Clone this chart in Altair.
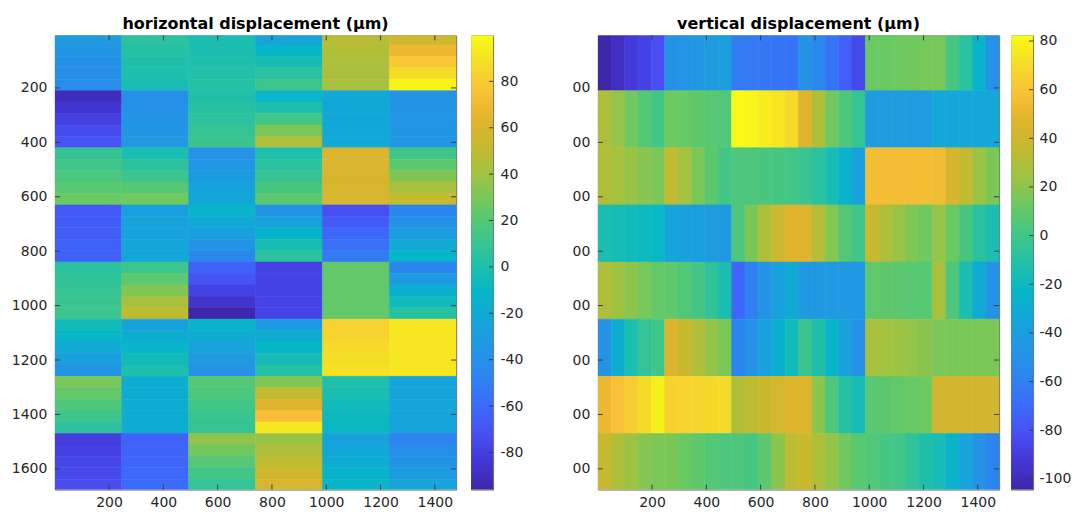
import altair as alt
import pandas as pd

FONT = "DejaVu Sans"
LABEL_COLOR = "#262626"
TICK_COLOR = "#3a3a3a"
FRAME_COLOR = "#6b6b6b"

# parula colour stops, evenly spaced from the low end to the high end
PARULA = [
    "#3e26a8", "#4437d6", "#4750f4", "#3b6cfa", "#2c85ee", "#2296e4",
    "#14a6d9", "#06b7c6", "#22c0a8", "#42c686", "#6ac962", "#9cc344",
    "#c2bb30", "#e2b32d", "#fbc238", "#f5dc28", "#f9fb15",
]

X_TICKS = [200, 400, 600, 800, 1000, 1200, 1400]
Y_TICKS = [200, 400, 600, 800, 1000, 1200, 1400, 1600]
H_BAR_TICKS = [-80, -60, -40, -20, 0, 20, 40, 60, 80]
V_BAR_TICKS = [-100, -80, -60, -40, -20, 0, 20, 40, 60, 80]

H_LIMITS = [-96.0, 99.8]
V_LIMITS = [-104.4, 82.3]

X_RANGE = [0.5, 1478.5]
Y_RANGE = [7, 1676]
CELL_W = 246.5
CELL_H = 210

# horizontal displacement: 8 rows x 6 cells, samples run top -> bottom inside a cell
horizontal = [
    [[-32, -35, -38, -40, -42], [5, 3, 1, 0, -2], [-2, -1, 0, 2, 3],
     [-24, -12, -3, 5, 12], [48, 46, 44, 43, 42], [56, 68, 78, 88, 97]],
    [[-90, -85, -80, -74, -70], [-40, -39, -37, -35, -33], [1, 4, 6, 9, 11],
     [-12, 0, 14, 30, 44], [-22, -22, -22, -21, -21], [-37, -36, -35, -34, -34]],
    [[9, 13, 17, 21, 26], [-2, 5, 12, 20, 28], [-38, -34, -30, -26, -22],
     [0, 5, 10, 16, 22], [61, 60, 59, 58, 58], [13, 22, 32, 42, 52]],
    [[-67, -66, -65, -64, -64], [-28, -26, -25, -23, -22], [-12, -20, -28, -36, -45],
     [-36, -26, -13, -3, 5], [-72, -67, -62, -57, -52], [-46, -38, -30, -20, -12]],
    [[5, 7, 9, 11, 12], [12, 22, 32, 42, 50], [-64, -70, -78, -86, -95],
     [-78, -78, -78, -78, -78], [24, 24, 24, 24, 24], [-46, -32, -16, -6, 4]],
    [[-5, -12, -20, -28, -36], [-26, -18, -12, -5, 0], [-12, -18, -25, -32, -38],
     [-30, -18, -10, -3, 3], [82, 84, 86, 88, 90], [92, 92, 92, 92, 92]],
    [[30, 24, 18, 12, 6], [-18, -18, -18, -18, -18], [20, 17, 14, 11, 9],
     [32, 50, 62, 74, 92], [1, -2, -5, -7, -9], [-24, -24, -24, -24, -24]],
    [[-81, -79, -77, -75, -73], [-64, -63, -62, -61, -60], [36, 28, 20, 14, 8],
     [38, 44, 50, 55, 58], [-26, -22, -18, -14, -12], [-48, -42, -36, -30, -24]],
]

# vertical displacement: 8 rows x 6 cells, samples run left -> right inside a cell
vertical = [
    [[-104, -98, -92, -87, -82], [-48, -46, -44, -42, -40], [-62, -63, -64, -65, -66],
     [-48, -55, -65, -75, -85], [12, 12, 13, 14, 15], [15, 2, -8, -25, -50]],
    [[30, 22, 14, 6, 0], [13, 11, 9, 7, 5], [82, 80, 77, 74, 70],
     [46, 30, 14, 4, -4], [-42, -42, -42, -42, -42], [-34, -34, -34, -34, -34]],
    [[30, 27, 23, 19, 16], [35, 26, 16, 8, 1], [4, 4, 3, 2, 1],
     [-3, -8, -16, -26, -38], [55, 55, 55, 55, 55], [54, 44, 35, 24, 16]],
    [[-14, -16, -18, -20, -22], [-36, -38, -40, -42, -44], [4, 16, 30, 40, 47],
     [46, 32, 18, 6, 0], [38, 30, 23, 17, 13], [22, 12, 2, -8, -14]],
    [[30, 25, 20, 15, 10], [9, 5, 1, -6, -15], [-72, -60, -48, -38, -30],
     [-44, -44, -44, -44, -44], [9, 9, 8, 7, 7], [28, 4, -14, -30, -48]],
    [[-48, -30, -14, -5, 0], [45, 38, 30, 22, 16], [-58, -48, -38, -28, -18],
     [-2, -12, -24, -38, -50], [28, 26, 24, 22, 20], [16, 16, 16, 16, 16]],
    [[52, 58, 64, 70, 78], [66, 67, 68, 69, 70], [30, 34, 38, 42, 46],
     [46, 20, 4, -10, -16], [7, 8, 10, 11, 13], [41, 41, 41, 41, 41]],
    [[38, 30, 24, 19, 16], [16, 12, 9, 6, 4], [4, 2, 8, 20, 34],
     [38, 30, 22, 14, 7], [5, 2, 0, -6, -12], [-16, -26, -36, -48, -58]],
]

PLOT_W = 402
PLOT_H = 455
BAR_W = 22
TICK_LEN = 5


def cells_to_frame(rows, along):
    """Split every image cell into strips, one per sample, like imagesc pixels."""
    recs = []
    for r, row in enumerate(rows):
        for c, samples in enumerate(row):
            n = len(samples)
            for k, v in enumerate(samples):
                if along == "y":
                    x0, x1 = c * CELL_W, (c + 1) * CELL_W
                    y0 = r * CELL_H + k * CELL_H / n
                    y1 = r * CELL_H + (k + 1) * CELL_H / n
                else:
                    x0 = c * CELL_W + k * CELL_W / n
                    x1 = c * CELL_W + (k + 1) * CELL_W / n
                    y0, y1 = r * CELL_H, (r + 1) * CELL_H
                recs.append({"x0": x0, "x1": x1, "y0": y0, "y1": y1, "v": v})
    return pd.DataFrame(recs)


def color_scale(limits):
    lo, hi = limits
    n = len(PARULA)
    dom = [lo + (hi - lo) * i / (n - 1) for i in range(n)]
    return alt.Scale(domain=dom, range=PARULA, interpolate="rgb", clamp=True)


def heatmap(df, limits, title, short_labels=False):
    cscale = color_scale(limits)
    xs = alt.Scale(domain=X_RANGE, nice=False, zero=False)
    ys = alt.Scale(domain=Y_RANGE, nice=False, zero=False, reverse=True)
    xaxis = alt.Axis(values=X_TICKS, format="d", title=None, ticks=False, domain=False,
                     grid=False, labelFontSize=14, labelColor=LABEL_COLOR, labelPadding=6,
                     labelFlush=False, labelOverlap=False)
    yopts = dict(values=Y_TICKS, format="d", title=None, ticks=False, domain=False, grid=False,
                 labelFontSize=14, labelColor=LABEL_COLOR, labelPadding=8,
                 labelFlush=False, labelOverlap=False)
    if short_labels:
        yopts["labelExpr"] = "substring(datum.label, length(datum.label) - 2)"
    yaxis = alt.Axis(**yopts)

    rects = alt.Chart(df).mark_rect(clip=True, strokeWidth=0.6).encode(
        x=alt.X("x0:Q", scale=xs, axis=xaxis),
        x2="x1:Q",
        y=alt.Y("y0:Q", scale=ys, axis=yaxis),
        y2="y1:Q",
        color=alt.Color("v:Q", scale=cscale, legend=None),
        stroke=alt.Stroke("v:Q", scale=cscale, legend=None),
    )

    xt = pd.DataFrame({"t": X_TICKS})
    yt = pd.DataFrame({"t": Y_TICKS})
    tick_x = alt.X("t:Q", scale=xs, axis=xaxis)
    tick_y = alt.Y("t:Q", scale=ys, axis=yaxis)
    rule = dict(color=TICK_COLOR, strokeWidth=1)
    bottom = alt.Chart(xt).mark_rule(**rule).encode(
        x=tick_x, y=alt.value(PLOT_H), y2=alt.value(PLOT_H - TICK_LEN))
    top = alt.Chart(xt).mark_rule(**rule).encode(
        x=tick_x, y=alt.value(0), y2=alt.value(TICK_LEN))
    left = alt.Chart(yt).mark_rule(**rule).encode(
        y=tick_y, x=alt.value(0), x2=alt.value(TICK_LEN))
    right = alt.Chart(yt).mark_rule(**rule).encode(
        y=tick_y, x=alt.value(PLOT_W), x2=alt.value(PLOT_W - TICK_LEN))

    return alt.layer(rects, bottom, top, left, right).properties(
        width=PLOT_W, height=PLOT_H,
        title=alt.TitleParams(title, fontSize=16, fontWeight="bold", color="black",
                              anchor="middle", offset=3),
    )


def colorbar(limits, ticks, pad):
    n = len(PARULA)
    grad = alt.LinearGradient(
        gradient="linear",
        stops=[alt.GradientStop(color=c, offset=i / (n - 1)) for i, c in enumerate(PARULA)],
        x1=0, x2=0, y1=1, y2=0,
    )
    ys = alt.Scale(domain=limits, nice=False, zero=False)
    # plain hyphen for negative numbers
    yaxis = alt.Axis(orient="right", values=ticks, title=None, ticks=False, domain=False,
                     grid=False, labelFontSize=14, labelColor=LABEL_COLOR, labelPadding=pad,
                     labelFlush=False, labelOverlap=False,
                     labelExpr="replace(datum.label, '\u2212', '-')")
    ends = pd.DataFrame({"lo": [limits[0]], "hi": [limits[1]]})
    bar = alt.Chart(ends).mark_rect(fill=grad).encode(
        y=alt.Y("lo:Q", scale=ys, axis=yaxis), y2="hi:Q",
        x=alt.value(0), x2=alt.value(BAR_W))
    tk = alt.Chart(pd.DataFrame({"t": ticks})).mark_rule(color=TICK_COLOR, strokeWidth=1).encode(
        y=alt.Y("t:Q", scale=ys, axis=yaxis), x=alt.value(BAR_W - 4), x2=alt.value(BAR_W))
    return alt.layer(bar, tk).properties(width=BAR_W, height=PLOT_H)


h_df = cells_to_frame(horizontal, "y")
v_df = cells_to_frame(vertical, "x")

left_group = alt.hconcat(
    heatmap(h_df, H_LIMITS, "horizontal displacement (μm)"),
    colorbar(H_LIMITS, H_BAR_TICKS, 7),
    spacing=13,
).resolve_scale(color="independent", stroke="independent", y="independent", x="independent")

right_group = alt.hconcat(
    heatmap(v_df, V_LIMITS, "vertical displacement (μm)", short_labels=True),
    colorbar(V_LIMITS, V_BAR_TICKS, 6),
    spacing=10,
).resolve_scale(color="independent", stroke="independent", y="independent", x="independent")

chart = alt.hconcat(left_group, right_group, spacing=47).resolve_scale(
    color="independent", stroke="independent", y="independent", x="independent"
).properties(
    padding={"left": 10, "top": 15, "right": 0, "bottom": 0},
).configure(font=FONT).configure_view(
    stroke=FRAME_COLOR, strokeWidth=1
).configure_axis(labelFont=FONT).configure_title(font=FONT)

chart.save("out.html", embed_options={"renderer": "svg", "actions": False})
